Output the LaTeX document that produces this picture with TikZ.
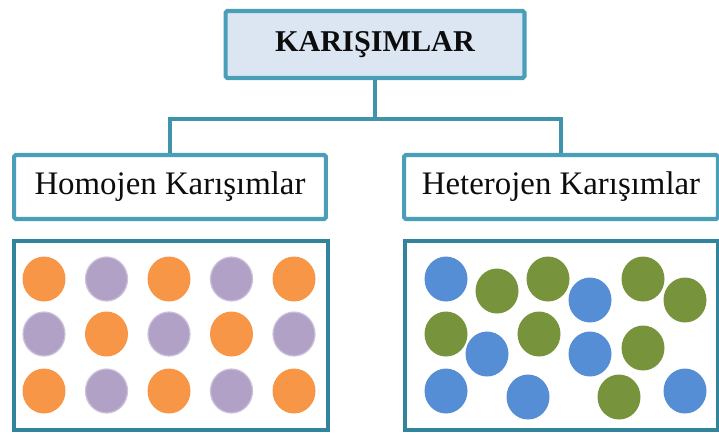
\documentclass[tikz,border=0pt]{standalone}
\usepackage{fontspec}
\setmainfont{Liberation Serif}
\usepackage{tikz}
\usetikzlibrary{positioning}
\usepackage{xcolor}
\definecolor{cerceve}{HTML}{4A9FB8}
\definecolor{kutucerceve}{HTML}{31849B}
\definecolor{hat}{HTML}{3F93AA}
\definecolor{baslikdolgu}{HTML}{DCE6F2}
\definecolor{turuncu}{HTML}{F79646}
\definecolor{mor}{HTML}{B2A1C7}
\definecolor{morkenar}{HTML}{CCC1DA}
\definecolor{mavi}{HTML}{558ED5}
\definecolor{yesil}{HTML}{77933C}

\begin{document}
\begin{tikzpicture}[x=0.02cm, y=-0.02cm,
    baslik/.style={draw=cerceve, line width=2.3pt, rounded corners=1pt, inner sep=0pt, text=black!95},
    kutu/.style={draw=kutucerceve, line width=2.3pt},
    baglanti/.style={draw=hat, line width=2.3pt}]

    \useasboundingbox (0,0) rectangle (719,434);

    % Ana başlık
    \node[baslik, fill=baslikdolgu, minimum width=5.98cm, minimum height=1.34cm,
          font=\fontsize{17.2}{19}\selectfont\bfseries] (karisim) at (375,44.5) {KARIŞIMLAR};

    % Alt başlıklar
    \node[baslik, fill=white, minimum width=6.24cm, minimum height=1.28cm,
          font=\fontsize{18.7}{21}\selectfont] (homojen) at (170,187) {Homojen Karışımlar};
    \node[baslik, fill=white, minimum width=6.28cm, minimum height=1.28cm,
          font=\fontsize{18.7}{21}\selectfont] (heterojen) at (561,187) {Heterojen Karışımlar};

    % Bağlantılar
    \path (karisim.south) ++(0,39) coordinate (ayrim);
    \draw[baglanti] (karisim.south) -- (ayrim) -| (homojen.north);
    \draw[baglanti] (ayrim) -| (heterojen.north);

    % Kaplar
    \draw[kutu] (14,241) rectangle (328,430);
    \draw[kutu] (405,241) rectangle (718,430);

    % Homojen tanecikler
    \foreach \i in {0,...,4}
        \foreach \y [count=\j] in {279,334,391} {
            \pgfmathsetmacro{\x}{44+62.5*\i}
            \pgfmathtruncatemacro{\k}{mod(\i+\j,2)}
            \ifnum\k=1
                \fill[turuncu] (\x,\y) ellipse [x radius=0.43cm, y radius=0.45cm];
            \else
                \draw[fill=mor, draw=morkenar, line width=0.7pt] (\x,\y) ellipse [x radius=0.42cm, y radius=0.44cm];
            \fi
        }

    % Heterojen tanecikler
    \foreach \x/\y/\renk in {446/279/mavi, 590/300/mavi, 487/354/mavi, 590/354/mavi,
                            446/391/mavi, 528/397/mavi, 685/391/mavi,
                            497/291/yesil, 548/279/yesil, 643/279/yesil, 685/300/yesil,
                            446/334/yesil, 539/334/yesil, 643/348/yesil, 619/397/yesil}
        \fill[\renk] (\x,\y) ellipse [x radius=0.43cm, y radius=0.45cm];

\end{tikzpicture}
\end{document}
